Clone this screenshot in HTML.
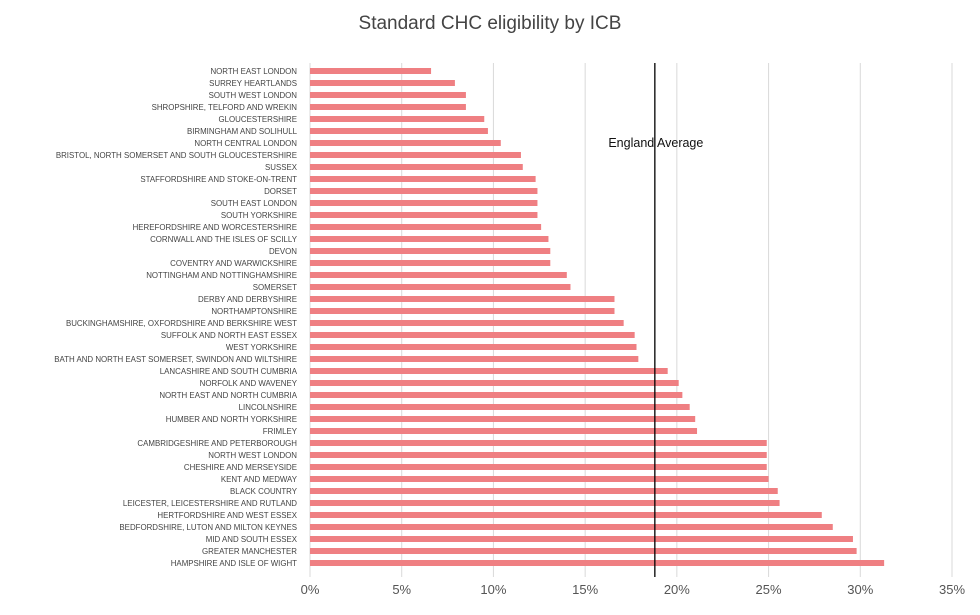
<!DOCTYPE html>
<html><head><meta charset="utf-8"><style>
body{margin:0;background:#fff;}
svg text{font-family:"Liberation Sans",sans-serif;}
</style></head><body>
<svg id="c" width="980" height="610">
<text x="490" y="29" text-anchor="middle" font-size="19" fill="#444">Standard CHC eligibility by ICB</text>
<g id="grid"></g><g id="bars"></g><g id="labels"></g><g id="ticks"></g><g id="avg"></g>
</svg>
<script>
const categories=["NORTH EAST LONDON","SURREY HEARTLANDS","SOUTH WEST LONDON","SHROPSHIRE, TELFORD AND WREKIN","GLOUCESTERSHIRE","BIRMINGHAM AND SOLIHULL","NORTH CENTRAL LONDON","BRISTOL, NORTH SOMERSET AND SOUTH GLOUCESTERSHIRE","SUSSEX","STAFFORDSHIRE AND STOKE-ON-TRENT","DORSET","SOUTH EAST LONDON","SOUTH YORKSHIRE","HEREFORDSHIRE AND WORCESTERSHIRE","CORNWALL AND THE ISLES OF SCILLY","DEVON","COVENTRY AND WARWICKSHIRE","NOTTINGHAM AND NOTTINGHAMSHIRE","SOMERSET","DERBY AND DERBYSHIRE","NORTHAMPTONSHIRE","BUCKINGHAMSHIRE, OXFORDSHIRE AND BERKSHIRE WEST","SUFFOLK AND NORTH EAST ESSEX","WEST YORKSHIRE","BATH AND NORTH EAST SOMERSET, SWINDON AND WILTSHIRE","LANCASHIRE AND SOUTH CUMBRIA","NORFOLK AND WAVENEY","NORTH EAST AND NORTH CUMBRIA","LINCOLNSHIRE","HUMBER AND NORTH YORKSHIRE","FRIMLEY","CAMBRIDGESHIRE AND PETERBOROUGH","NORTH WEST LONDON","CHESHIRE AND MERSEYSIDE","KENT AND MEDWAY","BLACK COUNTRY","LEICESTER, LEICESTERSHIRE AND RUTLAND","HERTFORDSHIRE AND WEST ESSEX","BEDFORDSHIRE, LUTON AND MILTON KEYNES","MID AND SOUTH ESSEX","GREATER MANCHESTER","HAMPSHIRE AND ISLE OF WIGHT"];
const values=[6.6,7.9,8.5,8.5,9.5,9.7,10.4,11.5,11.6,12.3,12.4,12.4,12.4,12.6,13.0,13.1,13.1,14.0,14.2,16.6,16.6,17.1,17.7,17.8,17.9,19.5,20.1,20.3,20.7,21.0,21.1,24.9,24.9,24.9,25.0,25.5,25.6,27.9,28.5,29.6,29.8,31.3];
const ticks=[0,5,10,15,20,25,30,35];
const average=18.8;
const NS="http://www.w3.org/2000/svg";
const x=v=>310+v*(642/35);
const y=i=>71+i*12;
function mk(t,a,p){const e=document.createElementNS(NS,t);for(const k in a)e.setAttribute(k,a[k]);p.appendChild(e);return e;}
const G=document.getElementById('grid'),B=document.getElementById('bars'),L=document.getElementById('labels'),T=document.getElementById('ticks'),A=document.getElementById('avg');
ticks.forEach(t=>{
 const l=mk('line',{x1:x(t),x2:x(t),y1:63,y2:577,stroke:'#d9d9d9','stroke-width':1},G);
 
 
 const tx=mk('text',{x:x(t),y:594,'text-anchor':'middle','font-size':13,fill:'#555'},T);
 tx.textContent=t+'%';
 
 
});
categories.forEach((c,i)=>{
 const r=mk('rect',{x:x(0),y:y(i)-3,width:x(values[i])-x(0),height:6,fill:'#ef7f82'},B);
 
 
 const t=mk('text',{x:297,y:y(i)+3,'text-anchor':'end','font-size':7.9,fill:'#444'},L);
 t.textContent=c;
 
 
});
const al=mk('line',{x1:x(average),x2:x(average),y1:63,y2:577,stroke:'#000','stroke-width':1.3},A);


const at=mk('text',{x:x(average)+1,y:147,'text-anchor':'middle','font-size':12.5,fill:'#111'},A);
at.textContent='England Average';


</script>
</body></html>
